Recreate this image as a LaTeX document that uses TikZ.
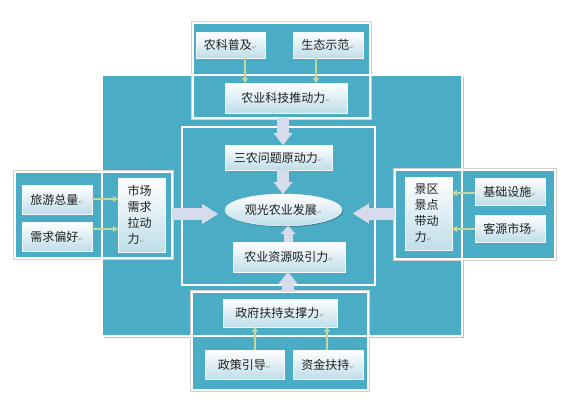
\documentclass[tikz,border=0pt]{standalone}
\usepackage{fontspec}
\newfontfamily\cjk{Noto Sans CJK SC}
\newfontfamily\retfont{DejaVu Sans}
\usetikzlibrary{arrows.meta,shapes.geometric,shadows,calc}
\definecolor{teal1}{HTML}{4BACC6}
\definecolor{boxb}{HTML}{BFDDE9}
\definecolor{garrow}{HTML}{C3D69B}
\definecolor{barrow}{HTML}{D6DCEC}
\newcommand\rmk{{\retfont\fontsize{6}{6}\selectfont\textcolor{black!40}{↵}}}
\begin{document}
\begin{tikzpicture}[x=1pt,y=-1pt,
  every node/.style={inner sep=0pt, outer sep=0pt},
  shd/.style={drop shadow={shadow xshift=1.5pt,shadow yshift=-1.5pt,opacity=0.4,fill=black!60}},
  panel/.style={rectangle, fill=teal1, draw=white, line width=2.2pt, shd,
    preaction={draw=black!18, line width=3.2pt}},
  frame/.style={rectangle, draw=white, line width=2.2pt},
  box/.style={rectangle, font=\cjk\fontsize{12}{16}\selectfont, text=black!88,
    top color=white, bottom color=boxb, draw=white!80!boxb, line width=0.5pt,
    drop shadow={shadow xshift=1pt,shadow yshift=-1pt,opacity=0.3,fill=black}},
  garr/.style={draw=garrow, line width=1.5pt, -{Triangle[width=6pt,length=5pt,line width=0.1pt]}},
  bigarr/.style={draw=barrow, line width=12pt, -{Triangle[width=19pt,length=12pt,line width=0.1pt]}},
  longhead/.style={-{Triangle[width=20pt,length=16pt,line width=0.1pt]}},
  smallarr/.style={line width=9pt, -{Triangle[width=15pt,length=8pt,line width=0.1pt]}}
]
\fill[white] (0,0) rectangle (574,413);
\useasboundingbox (0,0) rectangle (574,413);

% background and frames
\node[rectangle, fill=teal1, shd, draw=black!18, line width=1pt, minimum width=360pt, minimum height=261pt] (bg) at (282,205.5) {};
\node[frame, minimum width=193pt, minimum height=158pt] (cr) at (278.5,206) {};

% panels
\node[panel, minimum width=177pt, minimum height=95pt] (tp) at (281.5,70.5) {};
\node[panel, minimum width=157pt, minimum height=86pt] (lp) at (93.5,215) {};
\node[panel, minimum width=160pt, minimum height=89pt] (rp) at (475,214.5) {};
\node[panel, minimum width=176pt, minimum height=98pt] (bp) at (280,341) {};

\draw[white, line width=2pt] (bg.north west) rectangle (bg.south east);

% boxes
\node[box, minimum width=69pt, minimum height=26pt] (nkpj) at (230.5,45) {农科普及\rmk};
\node[box, minimum width=70pt, minimum height=26pt] (stsf) at (328,45) {生态示范\rmk};
\node[box, minimum width=122pt, minimum height=30pt] (kjtd) at (286,98) {农业科技推动力\rmk};
\node[box, minimum width=107pt, minimum height=25pt] (snwt) at (278.5,157.5) {三农问题原动力\rmk};
\node[box, ellipse, minimum width=117pt, minimum height=32pt] (ge) at (283.5,210) {观光农业发展\rmk};
\node[box, minimum width=112pt, minimum height=30pt] (nyzy) at (289,257) {农业资源吸引力\rmk};
\node[box, minimum width=70pt, minimum height=29pt] (lyzl) at (57,199.5) {旅游总量\rmk};
\node[box, minimum width=70pt, minimum height=29pt] (xqph) at (57,236.5) {需求偏好\rmk};
\node[box, minimum width=47pt, minimum height=74pt, text width=28pt, align=left] (scxq) at (141.5,215) {市场\\需求\\拉动\\力\rmk};
\node[box, minimum width=47pt, minimum height=73pt, text width=28pt, align=left] (jqjd) at (428.5,213.5) {景区\\景点\\带动\\力\rmk};
\node[box, minimum width=70pt, minimum height=27pt] (jcss) at (510,191.5) {基础设施\rmk};
\node[box, minimum width=70pt, minimum height=27pt] (kysc) at (510,228.5) {客源市场\rmk};
\node[box, minimum width=114pt, minimum height=28pt] (zfzc) at (280,313) {政府扶持支撑力\rmk};
\node[box, minimum width=79pt, minimum height=29pt] (zcyd) at (244.5,364.5) {政策引导\rmk};
\node[box, minimum width=70pt, minimum height=29pt] (zjfc) at (328,364.5) {资金扶持\rmk};

% helper coordinates
\coordinate (g1) at (245,0);
\coordinate (g2) at (316,0);
\coordinate (g3) at (0,199);
\coordinate (g4) at (0,229);
\coordinate (g5) at (0,193);
\coordinate (g6) at (0,229);
\coordinate (g7) at (255,0);
\coordinate (g8) at (327,0);
\coordinate (v1) at (283,0);
\coordinate (v2) at (288,0);
\coordinate (h1) at (0,214);
\coordinate (h2) at (0,213.5);
\coordinate (lt) at (218,214);
\coordinate (rt) at (353,213.5);

% small green connectors
\draw[garr] (nkpj.south -| g1) -- (kjtd.north -| g1);
\draw[garr] (stsf.south -| g2) -- (kjtd.north -| g2);
\draw[garr] (lyzl.east |- g3) -- (scxq.west |- g3);
\draw[garr] (xqph.east |- g4) -- (scxq.west |- g4);
\draw[garr] (jcss.west |- g5) -- (jqjd.east |- g5);
\draw[garr] (kysc.west |- g6) -- (jqjd.east |- g6);
\draw[garr] (zcyd.north -| g7) -- (zfzc.south -| g7);
\draw[garr] (zjfc.north -| g8) -- (zfzc.south -| g8);

% big block arrows
\draw[bigarr] (tp.south -| v1) -- (snwt.north -| v1);
\draw[bigarr] (snwt.south -| v1) -- (ge.north -| v1);
\draw[bigarr, smallarr] (nyzy.north -| v2) -- (ge.south -| v2);
\draw[bigarr] (bp.north -| v2) -- (nyzy.south -| v2);
\draw[bigarr, longhead] (lp.east |- h1) -- (lt);
\draw[bigarr, longhead] (rp.west |- h2) -- (rt);
\end{tikzpicture}
\end{document}
